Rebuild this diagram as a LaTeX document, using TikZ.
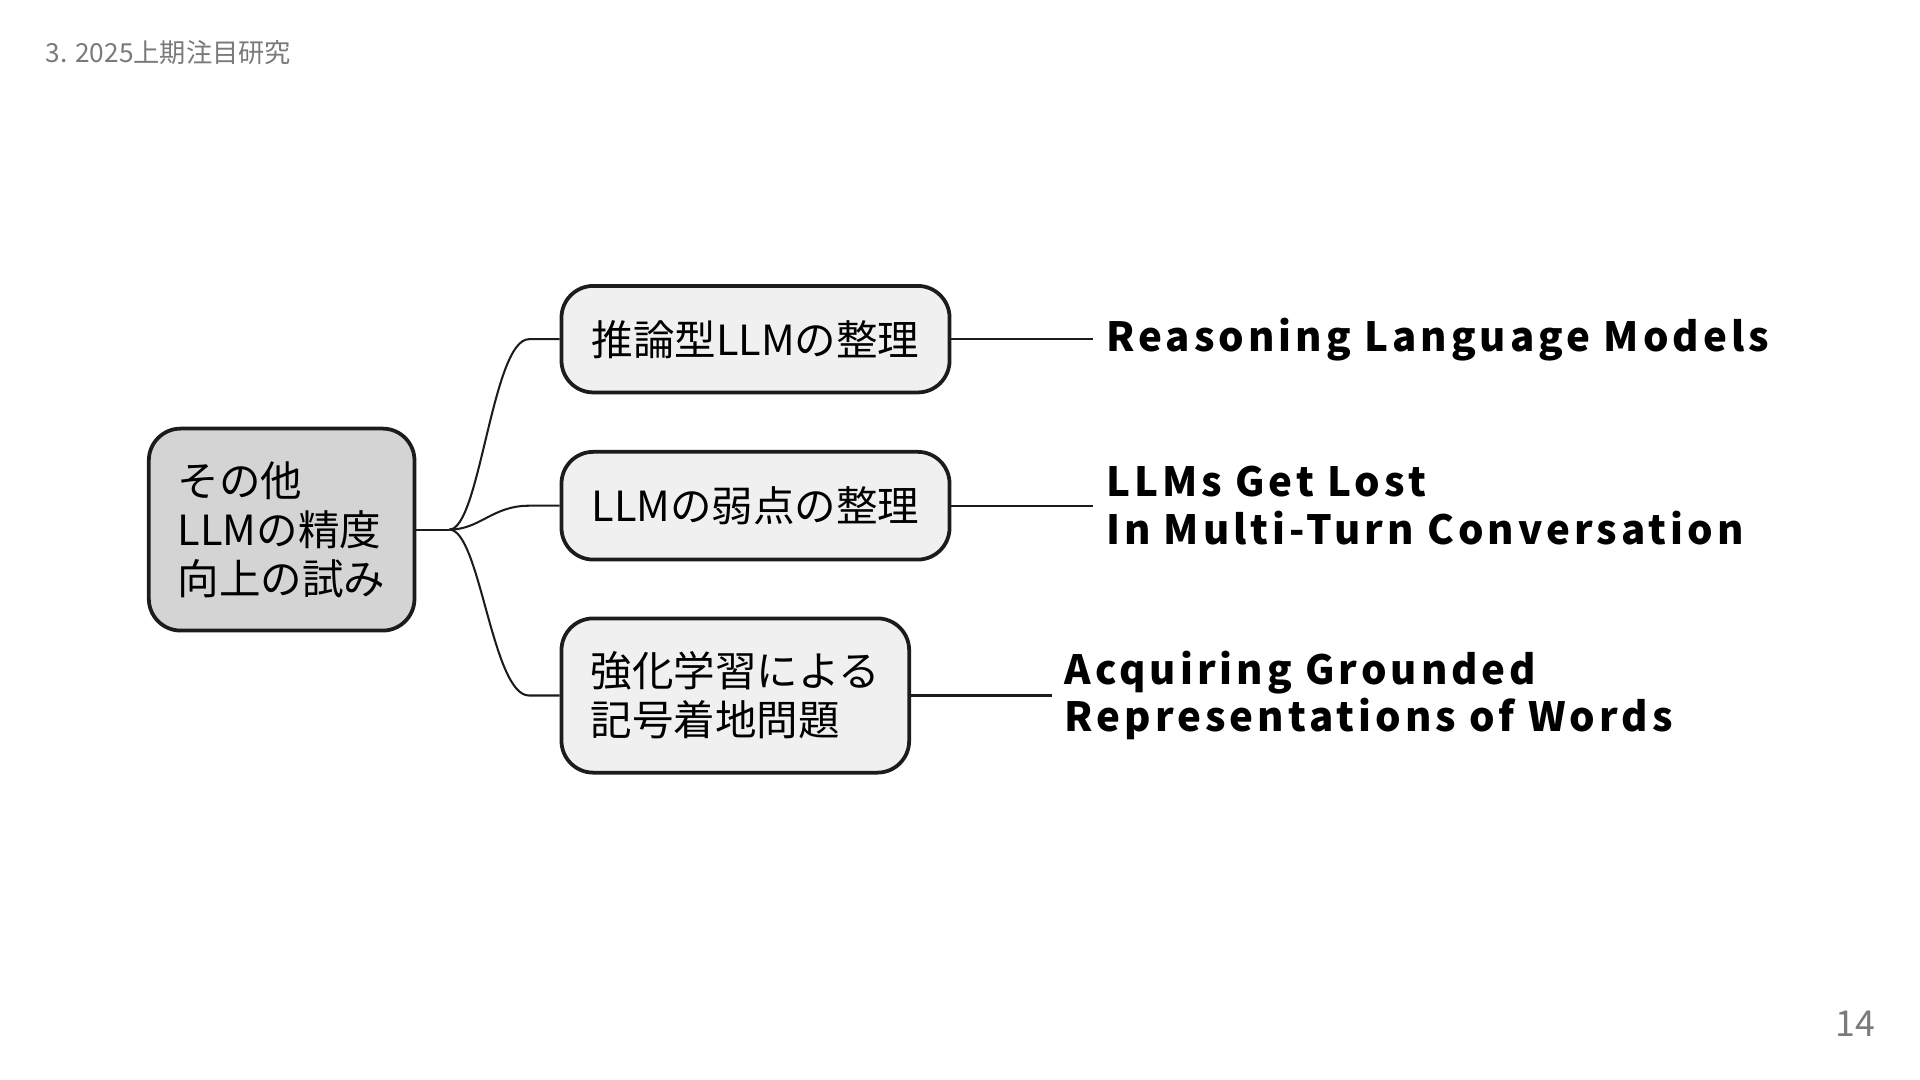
\documentclass[tikz,border=0pt]{standalone}
\usepackage{fontspec}
\setmainfont{Noto Sans CJK JP}
\newfontfamily\papertitle{Noto Sans CJK JP}[LetterSpace=10]
\usepackage{xcolor}
\usepackage{tikz}
\definecolor{rootfill}{HTML}{D4D4D4}
\definecolor{topicfill}{HTML}{F0F0F0}
\definecolor{edgeline}{HTML}{1C1C1C}
\definecolor{slidegray}{HTML}{7A7A7A}
\tikzset{
	topicnode/.style = {shape=rectangle, rounded corners=0.52cm,
		draw=edgeline, line width=1.75pt, align=left, inner sep=0pt,
		fill=topicfill, font=\fontsize{19.3pt}{22.7pt}\selectfont},
	root/.style      = {topicnode, fill=rootfill},
	paper/.style     = {align=left, inner xsep=0.2cm, inner ysep=0pt,
		font=\papertitle\bfseries\fontsize{18.7pt}{22.1pt}\selectfont},
	branch/.style    = {draw=edgeline, line width=0.95pt},
	slidetext/.style = {text=slidegray, inner sep=0pt}
}
\begin{document}
\begin{tikzpicture}
	[
	x = 0.02cm,
	y = -0.02cm
	]
	\useasboundingbox (0,0) rectangle (1568,882);
	\node [slidetext, anchor=base west, font=\fontsize{12.2pt}{14pt}\selectfont] (header) at (37,51) {3. 2025上期注目研究};
	\node [slidetext, anchor=base east, font=\fontsize{16.6pt}{19pt}\selectfont] (pageno) at (1532,846.5) {14};
	\node [root, anchor=west, minimum width=4.34cm, minimum height=3.3cm] (trial) at (120,432.5)
		{その他\\LLMの精度\\向上の試み};
	\node [topicnode, anchor=west, minimum width=6.34cm, minimum height=1.74cm] (reason) at (457,277)
		{推論型LLMの整理};
	\node [topicnode, anchor=west, minimum width=6.34cm, minimum height=1.76cm] (weak) at (457,413)
		{LLMの弱点の整理};
	\node [topicnode, anchor=west, minimum width=5.68cm, minimum height=2.52cm] (ground) at (457,568)
		{強化学習による\\記号着地問題};
	\node [paper, anchor=west] (paperA) at (893,277) {Reasoning Language Models};
	\node [paper, anchor=west] (paperB) at (893,413) {LLMs Get Lost\\In Multi-Turn Conversation};
	\node [paper, anchor=west] (paperC) at (859,568) {Acquiring Grounded\\Representations of Words};
	\coordinate (fork) at (367,432.5);
	\draw [branch] (trial.east) -- (fork);
	\draw [branch] (fork) .. controls (392,432.5) and (402,277) .. (432,277) -- (reason.west);
	\draw [branch] (fork) .. controls (392,432.5) and (402,413) .. (432,413) -- (weak.west);
	\draw [branch] (fork) .. controls (392,432.5) and (402,568) .. (432,568) -- (ground.west);
	\draw [branch] (reason.east) -- (paperA.west);
	\draw [branch] (weak.east) -- (paperB.west);
	\draw [branch] (ground.east) -- (paperC.west);
\end{tikzpicture}
\end{document}
